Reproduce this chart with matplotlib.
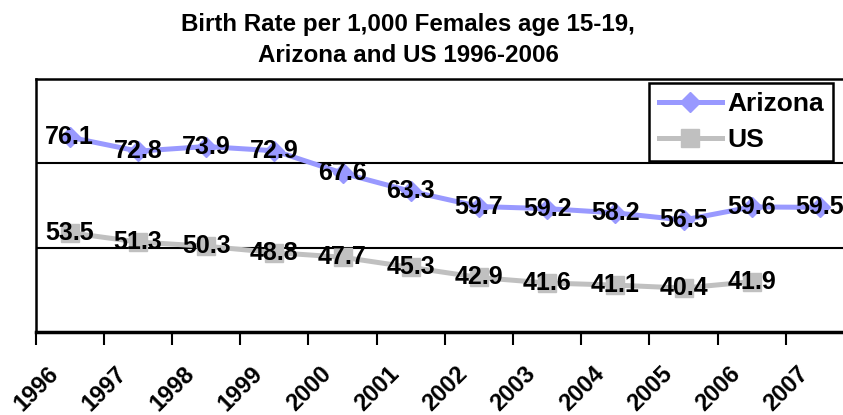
import matplotlib
matplotlib.use("Agg")
import matplotlib.pyplot as plt
import matplotlib.transforms as mtransforms

# -----------------------------
# Data
# -----------------------------
years = ["1996", "1997", "1998", "1999", "2000", "2001",
         "2002", "2003", "2004", "2005", "2006", "2007"]
arizona = [76.1, 72.8, 73.9, 72.9, 67.6, 63.3, 59.7, 59.2, 58.2, 56.5, 59.6, 59.5]
us = [53.5, 51.3, 50.3, 48.8, 47.7, 45.3, 42.9, 41.6, 41.1, 40.4, 41.9]

AZ_COLOR = "#9999FF"
US_COLOR = "#C0C0C0"
FONT = "Liberation Sans"

plt.rcParams["font.family"] = [FONT, "DejaVu Sans"]
plt.rcParams["font.weight"] = "bold"

W, H = 843, 415
fig = plt.figure(figsize=(W / 100, H / 100), dpi=100)

# plot area runs past the right edge, like the source image
left, right, top, bottom = 35.7, 854.0, 78.5, 332.0
ax = fig.add_axes([left / W, 1 - bottom / H, (right - left) / W, (bottom - top) / H])

x_az = list(range(len(arizona)))
x_us = list(range(len(us)))

ax.plot(x_az, arizona, color=AZ_COLOR, lw=3.6, marker="D", ms=10,
        label="Arizona", zorder=3, solid_joinstyle="miter")
ax.plot(x_us, us, color=US_COLOR, lw=3.6, marker="s", ms=12.5,
        label="US", zorder=3, solid_joinstyle="miter")

# data labels centred on the points
for xi, v in zip(x_az, arizona):
    ax.text(xi, v, f"{v:.1f}", ha="center", va="center", fontsize=18,
            fontweight="bold", zorder=5, clip_on=False)
for xi, v in zip(x_us, us):
    ax.text(xi, v, f"{v:.1f}", ha="center", va="center", fontsize=18,
            fontweight="bold", zorder=5, clip_on=False)

ax.set_xlim(-0.5, len(years) - 0.5)
ax.set_ylim(30, 90)
ax.set_yticks([50, 70])
ax.yaxis.grid(True, color="black", lw=1.5)
ax.set_axisbelow(True)
ax.tick_params(axis="y", left=False, labelleft=False)

ax.set_xticks([i - 0.5 for i in range(len(years))])
ax.set_xticklabels([])
ax.tick_params(axis="x", direction="out", length=9, width=1.5, color="black")

for side in ["left", "top", "bottom"]:
    ax.spines[side].set_linewidth(1.8)
    ax.spines[side].set_color("black")
ax.spines["bottom"].set_linewidth(2.5)
ax.spines["right"].set_visible(False)

# rotated category labels
offset = mtransforms.ScaledTranslation(-0.15, -0.38, fig.dpi_scale_trans)
trans = ax.get_xaxis_transform() + offset
for i, yr in enumerate(years):
    ax.text(i, 0, yr, transform=trans, rotation=45, rotation_mode="anchor",
            ha="right", va="center", fontsize=17, fontweight="bold", clip_on=False)

# title
fig.text(408 / W, 1 - 24 / H, "Birth Rate per 1,000 Females age 15-19,",
         ha="center", va="center", fontsize=17.4, fontweight="bold")
fig.text(408 / W, 1 - 56 / H, "Arizona and US 1996-2006",
         ha="center", va="center", fontsize=17.4, fontweight="bold")

leg = ax.legend(loc="upper right", bbox_to_anchor=(833 / W, 1 - 83 / H),
                bbox_transform=fig.transFigure, borderaxespad=0,
                fancybox=False, edgecolor="black", framealpha=1,
                prop={"family": FONT, "weight": "bold", "size": 19},
                handlelength=2.4, handletextpad=0.2, labelspacing=0.45,
                borderpad=0.35)
leg.get_frame().set_linewidth(1.8)

fig.savefig("out.png", dpi=100)
